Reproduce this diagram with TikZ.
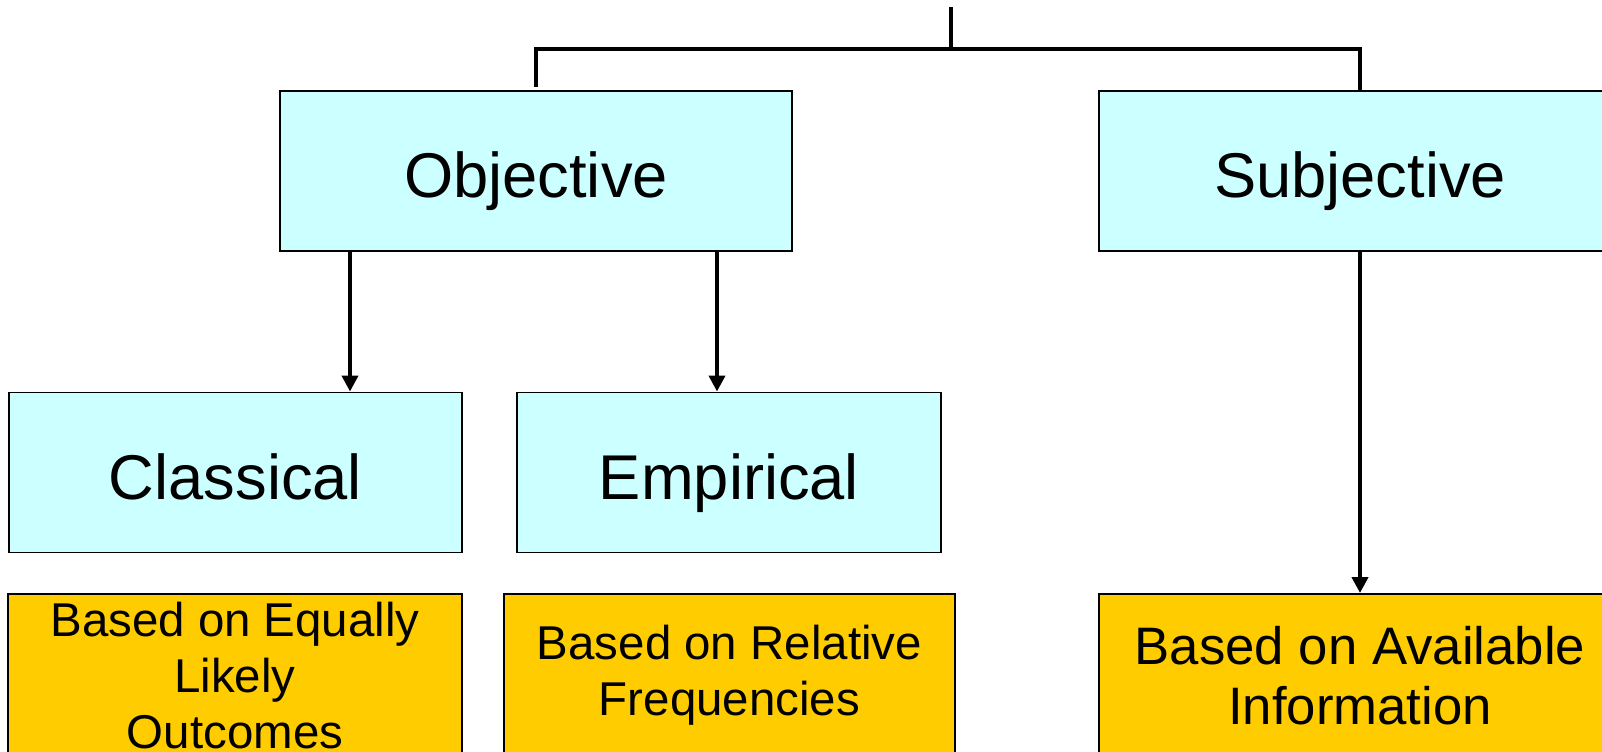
\documentclass[tikz,border=0pt]{standalone}
\usepackage{fontspec}
\setmainfont{Liberation Sans}
\usetikzlibrary{arrows.meta, positioning}
\definecolor{boxcyan}{HTML}{CCFFFF}
\definecolor{boxgold}{HTML}{FFCC00}

\begin{document}
\begin{tikzpicture}[
			thick,
			TopCfg/.style={
				draw, line width=1.1pt, fill=boxcyan,
				minimum height=3.2cm, inner sep=0pt,
				text height=1.06cm, text depth=0cm,
				font=\fontsize{36}{40}\selectfont
			},
			BaseCfg/.style={
				draw, line width=1.1pt, fill=boxgold,
				minimum height=3.26cm, inner sep=0pt, align=center,
				font=\fontsize{27}{31.9}\selectfont
			},
			Link/.style={line width=2.2pt},
			Arrow/.style={line width=2.2pt, -{Triangle[length=3.2mm, width=3.2mm]}}
			]
			
			\useasboundingbox (0,0) rectangle (32.04,-15.04);
			\clip (0,0) rectangle (32.04,-15.04);
			
			\path
			(10.72,-3.42) node [TopCfg, minimum width=10.24cm] (OBJ) {Objective}
			(27.2,-3.42)  node [TopCfg, minimum width=10.44cm] (SUBJ) {Subjective}
			(4.71,-9.45)  node [TopCfg, minimum width=9.06cm] (CLS) {Classical}
			(14.58,-9.45) node [TopCfg, minimum width=8.48cm] (EMP) {Empirical}
			(4.7,-13.51)  node [BaseCfg, minimum width=9.08cm] (EQL) {Based on Equally\\ Likely\\ Outcomes}
			(14.59,-13.51) node [BaseCfg, minimum width=9.02cm] (REL) {Based on Relative\\ Frequencies}
			(27.2,-13.51) node [BaseCfg, minimum width=10.44cm,
				font=\fontsize{30}{34}\selectfont] (AVL) {Based on Available\\ Information};
			
			\coordinate (TOP)  at (19.02,-0.14);
			\coordinate (FORK) at (19.02,-0.98);
			
			\draw [Link]
			(TOP) -- (FORK) -| ([yshift=0.06cm]OBJ.north)
			(FORK) -| (SUBJ.north);
			
			\draw [Arrow] ([xshift=-3.72cm]OBJ.south) -- ([xshift=-3.72cm]OBJ.south |- CLS.north);
			\draw [Arrow] ([xshift=3.62cm]OBJ.south) -- ([xshift=3.62cm]OBJ.south |- EMP.north);
			\draw [Arrow] (SUBJ.south) -- (AVL.north);
		\end{tikzpicture}
\end{document}
